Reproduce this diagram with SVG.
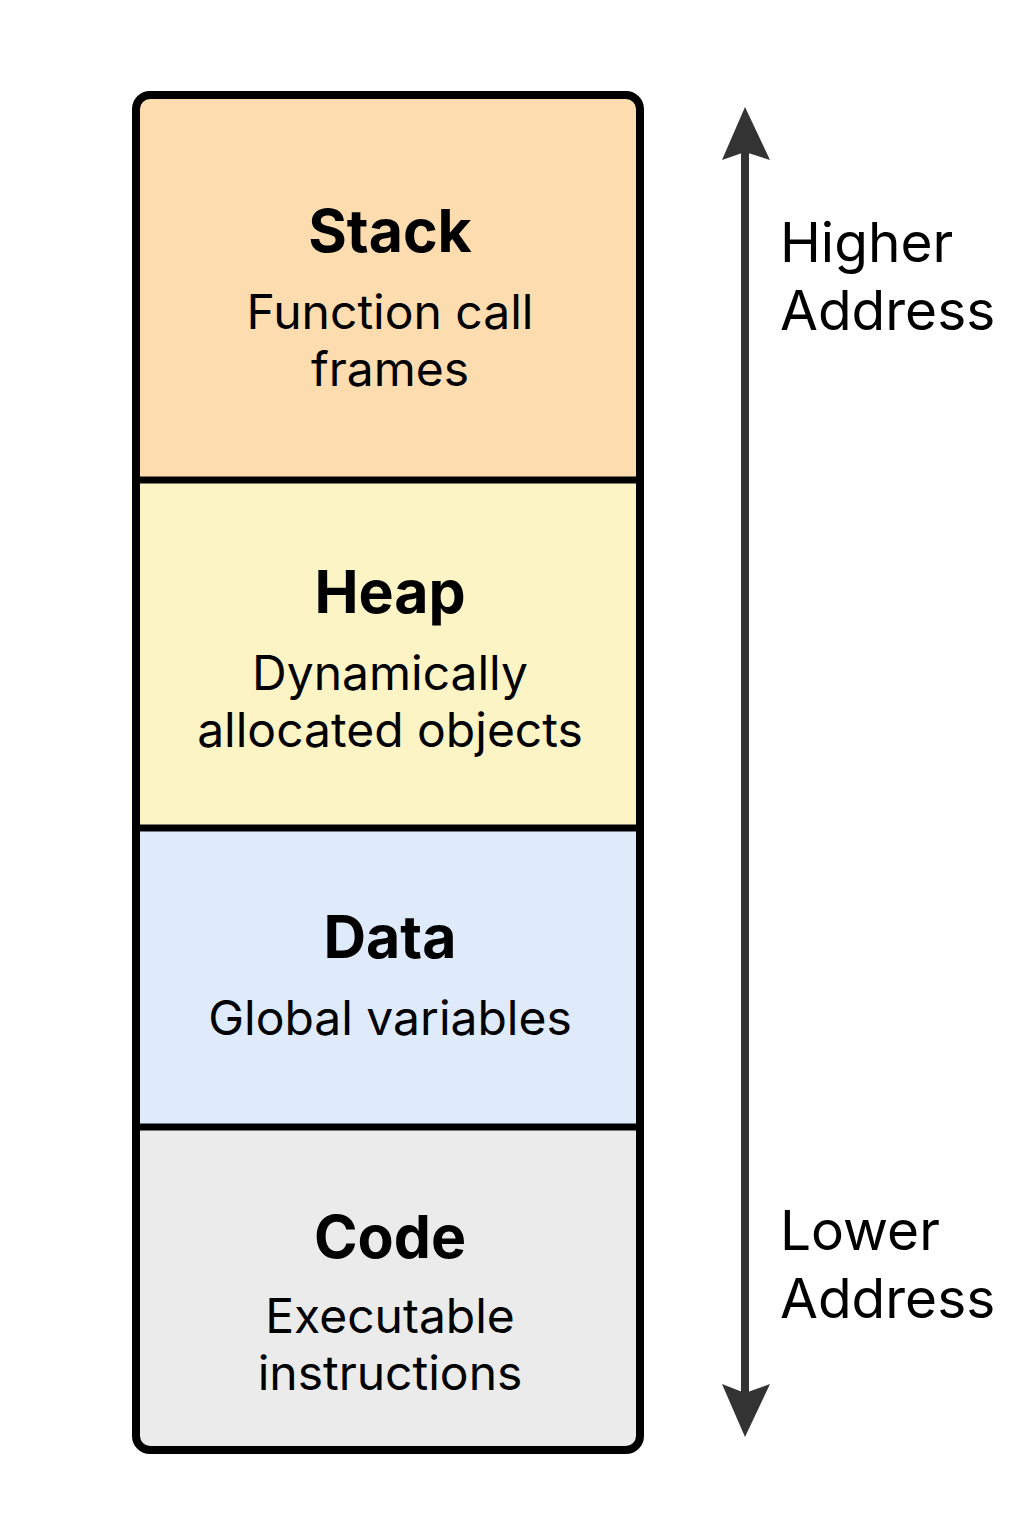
<svg xmlns="http://www.w3.org/2000/svg" width="1024" height="1536" viewBox="0 0 1024 1536">
<style>
.t{font-family:Inter,"Open Sans","Liberation Sans",sans-serif;fill:#000;text-anchor:middle}
.h{font-size:59px;font-weight:700}
.s{font-size:48px}
.a{font-family:Inter,"Open Sans","Liberation Sans",sans-serif;font-size:55px;fill:#000}
.div{stroke:#000;stroke-width:7}
</style>
<defs>
<clipPath id="box"><rect x="136" y="95" width="504" height="1355" rx="14"/></clipPath>
</defs>
<rect width="1024" height="1536" fill="#fff"/>
<g clip-path="url(#box)">
<g id="stack"><rect x="136" y="95" width="504" height="385" fill="#FDDCB0"/>
<text class="t h" x="390" y="252">Stack</text>
<text class="t s" x="390" y="329">Function call</text>
<text class="t s" x="390" y="386">frames</text></g>
<g id="heap"><rect x="136" y="480" width="504" height="348" fill="#FDF4C6"/>
<text class="t h" x="390" y="613">Heap</text>
<text class="t s" x="390" y="690">Dynamically</text>
<text class="t s" x="390" y="747">allocated objects</text></g>
<g id="data"><rect x="136" y="828" width="504" height="299" fill="#DFEAFB"/>
<text class="t h" x="390" y="958">Data</text>
<text class="t s" x="390" y="1035">Global variables</text></g>
<g id="code"><rect x="136" y="1127" width="504" height="323" fill="#EBEBEB"/>
<text class="t h" x="390" y="1258">Code</text>
<text class="t s" x="390" y="1333">Executable</text>
<text class="t s" x="390" y="1390">instructions</text></g>
</g>
<g id="dividers">
<line class="div" x1="136" y1="480" x2="640" y2="480"/>
<line class="div" x1="136" y1="828" x2="640" y2="828"/>
<line class="div" x1="136" y1="1127" x2="640" y2="1127"/>
</g>
<rect x="136" y="95" width="504" height="1355" rx="14" fill="none" stroke="#000" stroke-width="8"/>
<g id="connectors">
<line x1="745" y1="150" x2="745" y2="1395" stroke="#333" stroke-width="8"/>
<polygon points="745,107 770,160 745,152 722,160" fill="#333"/>
<polygon points="745,1437 770,1384 745,1393 722,1384" fill="#333"/>
</g>
<g id="labels">
<text class="a" x="780" y="262">Higher</text>
<text class="a" x="780" y="330">Address</text>
<text class="a" x="780" y="1250">Lower</text>
<text class="a" x="780" y="1318">Address</text>
</g>
</svg>
